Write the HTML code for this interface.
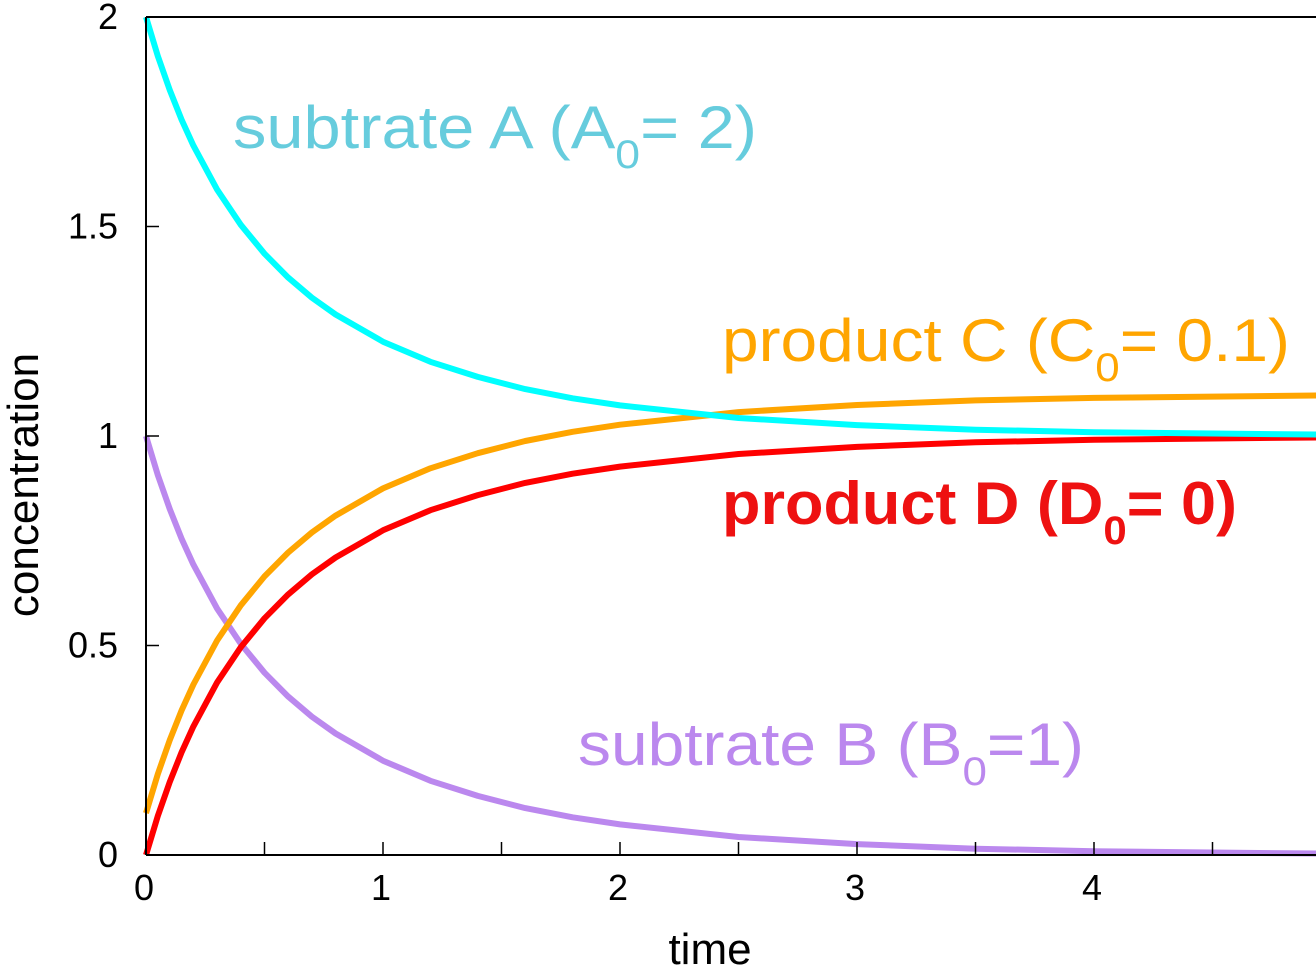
<!DOCTYPE html>
<html><head><meta charset="utf-8"><style>
html,body{margin:0;padding:0;background:#fff;}
svg{display:block;font-family:"Liberation Sans",Arial,sans-serif;}
</style></head><body>
<svg id="chart" width="1316" height="977" viewBox="0 0 1316 977">
<g id="curves"></g>
<g id="axes"></g>
<text x="233" y="148" font-size="60" fill="#66ccdd" textLength="524" lengthAdjust="spacingAndGlyphs">subtrate A (A<tspan font-size="40" dy="20">0</tspan><tspan dy="-20">= 2)</tspan></text>
<text x="722" y="361" font-size="60" fill="#ffa500" textLength="568" lengthAdjust="spacingAndGlyphs">product C (C<tspan font-size="40" dy="20">0</tspan><tspan dy="-20">= 0.1)</tspan></text>
<text x="722" y="524" font-size="60" font-weight="bold" fill="#ee1111" textLength="515" lengthAdjust="spacingAndGlyphs">product D (D<tspan font-size="40" dy="20">0</tspan><tspan dy="-20">= 0)</tspan></text>
<text x="578" y="765" font-size="60" fill="#bb88ee" textLength="506" lengthAdjust="spacingAndGlyphs">subtrate B (B<tspan font-size="40" dy="20">0</tspan><tspan dy="-20">=1)</tspan></text>
<text x="710" y="964" font-size="44" text-anchor="middle">time</text>
<text transform="translate(38,485) rotate(-90)" font-size="44" text-anchor="middle">concentration</text>
</svg>
<script>
const times = [0,0.05,0.1,0.15,0.2,0.3,0.4,0.5,0.6,0.7,0.8,1.0,1.2,1.4,1.6,1.8,2.0,2.5,3.0,3.5,4.0,4.5,5.0];
const seriesA = [2,1.907,1.826,1.755,1.693,1.588,1.504,1.435,1.378,1.330,1.290,1.225,1.177,1.141,1.112,1.090,1.073,1.043,1.026,1.015,1.009,1.006,1.003];
const seriesB = [1,0.907,0.826,0.755,0.693,0.588,0.504,0.435,0.378,0.330,0.290,0.225,0.177,0.141,0.112,0.090,0.073,0.043,0.026,0.015,0.009,0.006,0.003];
const seriesC = [0.1,0.193,0.274,0.345,0.407,0.512,0.596,0.665,0.722,0.770,0.810,0.875,0.923,0.959,0.988,1.010,1.027,1.057,1.074,1.085,1.091,1.094,1.097];
const seriesD = [0,0.093,0.174,0.245,0.307,0.412,0.496,0.565,0.622,0.670,0.710,0.775,0.823,0.859,0.888,0.910,0.927,0.957,0.974,0.985,0.991,0.994,0.997];
const xTicks = [0,1,2,3,4];
const yTicks = [0,0.5,1,1.5,2];
const yTickLabels = ["0","0.5","1","1.5","2"];

const NS="http://www.w3.org/2000/svg";
const X0=146, PX=237, Y0=855, PY=419;
function xs(v){return X0+v*PX;}
function ys(v){return Y0-v*PY;}
const curves=document.getElementById('curves');
const axes=document.getElementById('axes');
const clip=document.createElementNS(NS,'clipPath');clip.setAttribute('id','pc');
const cr=document.createElementNS(NS,'rect');cr.setAttribute('x',X0-4);cr.setAttribute('y',12);cr.setAttribute('width',1316-X0+4);cr.setAttribute('height',848);
clip.appendChild(cr);document.getElementById('chart').appendChild(clip);
curves.setAttribute('clip-path','url(#pc)');
function drawSeries(vals,color,name){
  const p=document.createElementNS(NS,'polyline');
  p.setAttribute('points',vals.map((v,i)=>xs(times[i]).toFixed(1)+','+ys(v).toFixed(1)).join(' '));
  p.setAttribute('fill','none');p.setAttribute('stroke',color);p.setAttribute('stroke-width','6');
  p.setAttribute('stroke-linejoin','round');
  
  
  curves.appendChild(p);
}
drawSeries(seriesB,'#bb88ee','series-substrate-b');
drawSeries(seriesD,'#ff0000','series-product-d');
drawSeries(seriesC,'#ffa500','series-product-c');
drawSeries(seriesA,'#00ffff','series-substrate-a');
function line(x1,y1,x2,y2,w,name){
  const l=document.createElementNS(NS,'line');
  l.setAttribute('x1',x1);l.setAttribute('y1',y1);l.setAttribute('x2',x2);l.setAttribute('y2',y2);
  l.setAttribute('stroke','#000');l.setAttribute('stroke-width',w);
  
  
  axes.appendChild(l);
}
line(X0,ys(2),1316,ys(2),2,'top-border');
line(X0,ys(2),X0,Y0,2,'y-axis-line');
line(X0,Y0,1316,Y0,2,'x-axis-line');
function text(x,y,s,anchor,name){
  const t=document.createElementNS(NS,'text');
  t.setAttribute('x',x);t.setAttribute('y',y);t.setAttribute('font-size','36');t.setAttribute('text-anchor',anchor);
  t.textContent=s;
  
  
  axes.appendChild(t);
}
xTicks.forEach(v=>{
  line(xs(v),Y0,xs(v),Y0-13,1.5,'x-tick');
  if(v+0.5<5) line(xs(v+0.5),Y0,xs(v+0.5),Y0-13,1.5,'x-minor-tick');
  text(xs(v)-2,900,String(v),'middle','x-tick-label');
});
yTicks.forEach((v,i)=>{
  line(X0,ys(v),X0+13,ys(v),1.5,'y-tick');
  text(118,ys(v)+12,yTickLabels[i],'end','y-tick-label');
});
</script>
</body></html>
